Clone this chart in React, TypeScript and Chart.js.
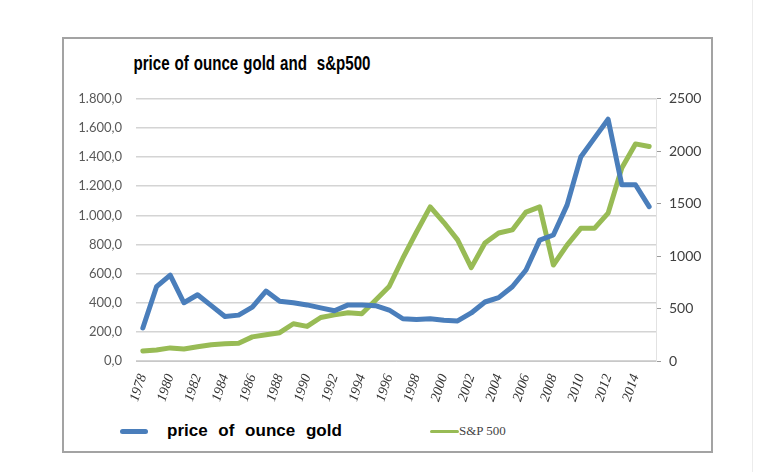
import React, { useEffect, useRef } from "react";
import { Chart, registerables } from "chart.js";

Chart.register(...registerables);

const years: string[] = [
  "1978","1979","1980","1981","1982","1983","1984","1985","1986","1987",
  "1988","1989","1990","1991","1992","1993","1994","1995","1996","1997",
  "1998","1999","2000","2001","2002","2003","2004","2005","2006","2007",
  "2008","2009","2010","2011","2012","2013","2014","2015",
];

const goldPrice: number[] = [
  227, 510, 590, 400, 455, 380, 305, 315, 370, 480,
  410, 400, 385, 365, 345, 385, 385, 380, 350, 290,
  285, 290, 280, 275, 330, 405, 435, 510, 625, 830,
  865, 1070, 1400, 1530, 1660, 1210, 1210, 1060,
];

const sp500: number[] = [
  95, 105, 125, 115, 135, 155, 165, 170, 230, 250,
  270, 355, 330, 415, 440, 460, 450, 580, 710, 980,
  1230, 1470, 1320, 1155, 890, 1125, 1220, 1250, 1420, 1470,
  915, 1105, 1265, 1265, 1410, 1840, 2070, 2045,
];

const goldLabel = "price of ounce gold";
const spLabel = "S&P 500";
const titleText = "price of ounce gold and  s&p500";

function formatLeft(v: number): string {
  const whole = Math.round(v).toString().replace(/\B(?=(\d{3})+(?!\d))/g, ".");
  return whole + ",0";
}

export default function App() {
  const ref = useRef<HTMLCanvasElement | null>(null);

  useEffect(() => {
    if (!ref.current) return;
    const chart = new Chart(ref.current, {
      type: "line",
      data: {
        labels: years,
        datasets: [
          {
            label: goldLabel,
            data: goldPrice,
            borderColor: "#4a7ebb",
            borderWidth: 5,
            pointRadius: 0,
            tension: 0,
            yAxisID: "y",
            borderCapStyle: "round",
            borderJoinStyle: "round",
          },
          {
            label: spLabel,
            data: sp500,
            borderColor: "#98bb55",
            borderWidth: 5,
            pointRadius: 0,
            tension: 0,
            yAxisID: "y1",
            borderCapStyle: "round",
            borderJoinStyle: "round",
          },
        ],
      },
      options: {
        responsive: false,
        animation: false,
        layout: { padding: { top: 10, bottom: 0, left: 0, right: 0 } },
        plugins: {
          legend: { display: false },
          title: { display: false },
          tooltip: { enabled: false },
        },
        scales: {
          x: {
            offset: true,
            grid: { display: false },
            border: { display: true, color: "#c8c8c8" },
            ticks: {
              autoSkip: false,
              minRotation: 72,
              maxRotation: 72,
              padding: 3,
              color: "#333333",
              font: { family: "'Liberation Serif', serif", size: 14, style: "italic" },
              callback: (_v: any, i: number) => (i % 2 === 0 ? years[i] : ""),
            },
            afterFit: (s: any) => {
              s.height = 54;
            },
          },
          y: {
            position: "left",
            min: 0,
            max: 1800,
            ticks: {
              stepSize: 200,
              padding: 14,
              color: "#595959",
              font: { family: "Lato, 'Open Sans', sans-serif", size: 13 },
              callback: (v: any) => formatLeft(Number(v)),
            },
            grid: { color: "#d4d4d4", lineWidth: 1.5, drawTicks: false },
            border: { display: false },
            afterFit: (s: any) => {
              s.width = 74;
            },
          },
          y1: {
            position: "right",
            min: 0,
            max: 2500,
            ticks: {
              stepSize: 500,
              padding: 8,
              color: "#404040",
              font: { family: "Lato, 'Open Sans', sans-serif", size: 14 },
              callback: (v: any) => String(v),
            },
            grid: { drawOnChartArea: false, tickLength: 5, color: "#9a9a9a" },
            border: { display: true, color: "#e2e2e2" },
            afterFit: (s: any) => {
              s.width = 57;
            },
          },
        },
      },
    });
    return () => chart.destroy();
  }, []);

  return (
    <div style={{ position: "absolute", left: 0, top: 0, width: 768, height: 472, background: "#fff", overflow: "hidden" }}>
      <div style={{ position: "absolute", left: 752, top: 0, width: 1, height: 472, background: "#ececec" }} />
      <div
        style={{
          position: "absolute",
          left: 62,
          top: 37,
          width: 647,
          height: 412,
          border: "2px solid #a3a3a3",
        }}
      />
      <div
        style={{
          position: "absolute",
          left: 252,
          top: 50,
          transform: "translateX(-50%) scaleX(0.72)",
          whiteSpace: "pre",
          fontFamily: "'Liberation Sans', Arial, sans-serif",
          fontWeight: "bold",
          fontSize: 21,
          lineHeight: "26px",
          wordSpacing: 1,
          color: "#000",
        }}
      >
        {titleText}
      </div>
      <canvas ref={ref} width={651} height={338} style={{ position: "absolute", left: 62, top: 77 }} />
      <div style={{ position: "absolute", left: 120, top: 428.5, width: 28, height: 5, borderRadius: 3, background: "#4a7ebb" }} />
      <div
        style={{
          position: "absolute",
          left: 167,
          top: 420,
          whiteSpace: "pre",
          fontFamily: "'Liberation Sans', Arial, sans-serif",
          fontWeight: "bold",
          fontSize: 17,
          lineHeight: "22px",
          wordSpacing: 6,
          color: "#000",
        }}
      >
        {goldLabel}
      </div>
      <div style={{ position: "absolute", left: 430, top: 429.5, width: 29, height: 3.5, borderRadius: 2, background: "#98bb55" }} />
      <div
        style={{
          position: "absolute",
          left: 459,
          top: 423,
          whiteSpace: "pre",
          fontFamily: "'Liberation Serif', serif",
          fontSize: 13,
          lineHeight: "16px",
          color: "#444",
        }}
      >
        {spLabel}
      </div>
    </div>
  );
}
